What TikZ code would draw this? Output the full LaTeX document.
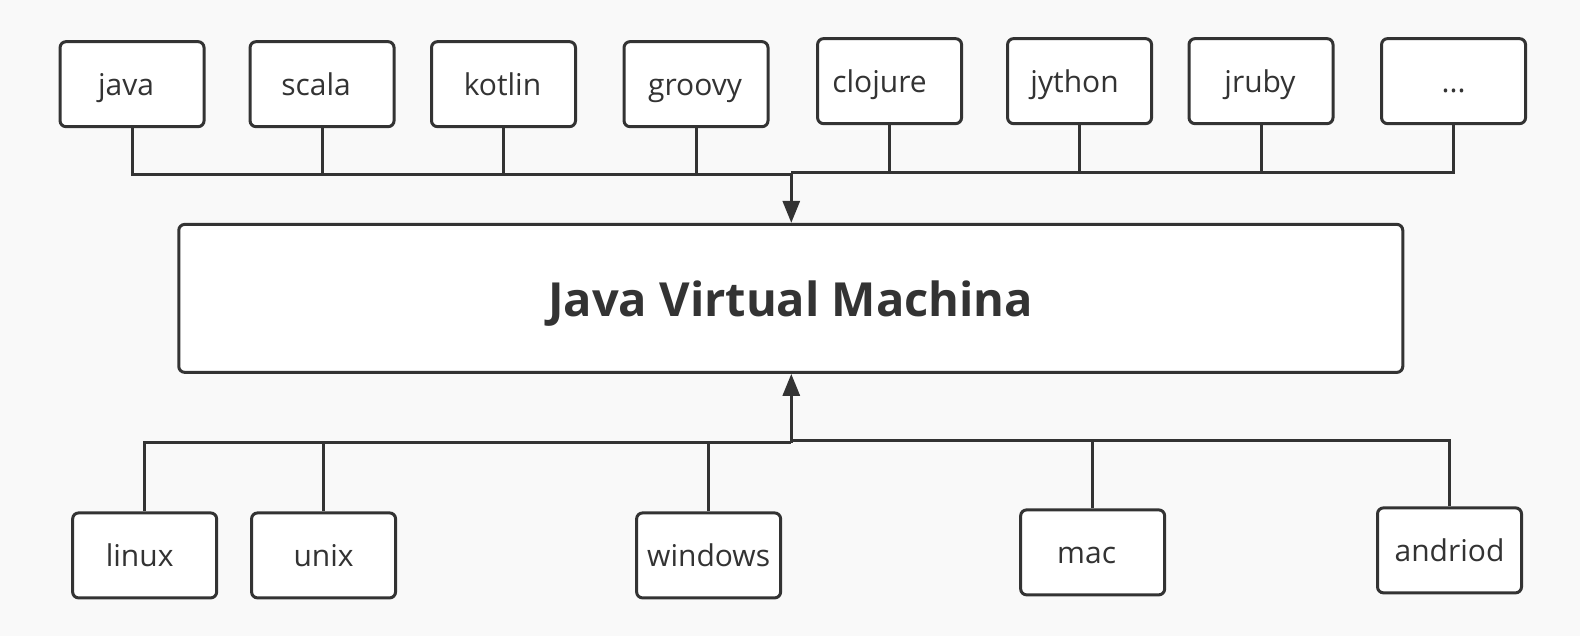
\documentclass[tikz,border=0pt]{standalone}
\usepackage{fontspec}
\setmainfont{Open Sans}
\usetikzlibrary{arrows.meta}
\definecolor{ink}{HTML}{333333}
\definecolor{bg}{HTML}{F9F9F9}
\tikzset{
  lang/.style={draw=ink, fill=white, line width=3pt, rounded corners=6pt,
    minimum width=144pt, minimum height=85pt, inner sep=0pt,
    text height=23pt, text depth=0pt,
    text=ink, font=\fontsize{30}{34}\selectfont},
  shl/.style={execute at end node={\hspace*{#1}}},
  jvmbox/.style={draw=ink, fill=white, line width=3pt, rounded corners=6pt,
    minimum width=1224pt, minimum height=148pt, inner sep=0pt,
    text height=37pt, text depth=0pt,
    text=ink, font=\fontsize{47}{52}\selectfont\bfseries},
  wire/.style={draw=ink, line width=3pt},
  arr/.style={wire, -{Triangle[length=22pt, width=17pt]}}
}
\begin{document}
\begin{tikzpicture}[x=1.008pt, y=-1.008pt]
\fill[bg] (0,0) rectangle (1567.46,630.95);
\useasboundingbox (0,0) rectangle (1567.46,630.95);
% top row
\node[lang, shl=12pt] (java)    at (131,83.5)  {java};
\node[lang, shl=12pt] (scala)   at (319.5,83.5) {scala};
\node[lang, shl=2pt]  (kotlin)  at (499.5,83.5) {kotlin};
\node[lang, shl=2pt]  (groovy)  at (690.5,83.5) {groovy};
\node[lang, shl=20pt] (clojure) at (882.5,80.5) {clojure};
\node[lang, shl=10pt] (jython)  at (1071,80.5) {jython};
\node[lang, shl=2pt]  (jruby)   at (1251,80.5) {jruby};
\node[lang]           (more)    at (1442,80.5) {...};
% JVM
\node[jvmbox] (jvm) at (784.5,296) {Java Virtual Machina};
% bottom row
\node[lang, shl=10pt] (linux)   at (143.5,551) {linux};
\node[lang]           (unix)    at (321,551) {unix};
\node[lang]           (windows) at (703,551) {windows};
\node[lang, shl=12pt] (mac)     at (1084,548) {mac};
\node[lang]           (andriod) at (1438,546) {andriod};
% junctions
\coordinate (tl) at (785,173.5);
\coordinate (tr) at (785,171.5);
\coordinate (bl) at (785,439);
\coordinate (br) at (785,437);
% top connectors
\foreach \n in {java,scala,kotlin,groovy} \draw[wire] (\n.south) |- (tl);
\foreach \n in {clojure,jython,jruby,more} \draw[wire] (\n.south) |- (tr);
\draw[arr] (tr) -- (tr |- jvm.north);
% bottom connectors
\foreach \n in {linux,unix,windows} \draw[wire] (\n.north) |- (bl);
\foreach \n in {mac,andriod} \draw[wire] (\n.north) |- (br);
\draw[arr] (bl) -- (bl |- jvm.south);
\end{tikzpicture}
\end{document}
